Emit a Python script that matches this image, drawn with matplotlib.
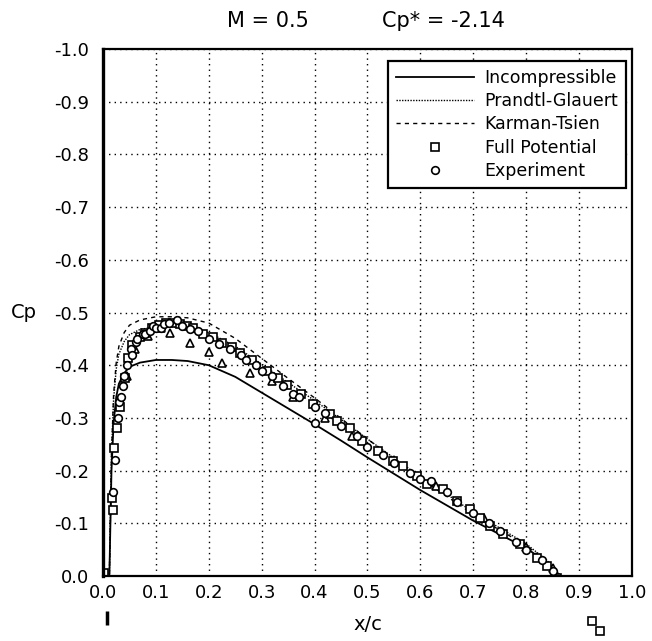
import matplotlib
matplotlib.use("Agg")
import matplotlib.pyplot as plt
from matplotlib.lines import Line2D

plt.rcParams["font.family"] = ["DejaVu Sans"]

# curves (x/c, Cp)
x_curve = [0.0, 0.012, 0.014, 0.016, 0.02, 0.025, 0.03, 0.04, 0.05, 0.07,
           0.1, 0.13, 0.16, 0.2, 0.25, 0.3, 0.35, 0.4, 0.45, 0.5,
           0.55, 0.6, 0.65, 0.7, 0.75, 0.8, 0.84, 0.865]
cp_incomp = [0.0, 0.0, -0.1, -0.2, -0.29, -0.34, -0.365, -0.385, -0.397, -0.405,
             -0.41, -0.41, -0.408, -0.40, -0.378, -0.348, -0.318, -0.288, -0.257, -0.225,
             -0.194, -0.163, -0.134, -0.105, -0.079, -0.053, -0.025, 0.0]
cp_pg = [0.0, 0.0, -0.115, -0.23, -0.335, -0.393, -0.421, -0.445, -0.458, -0.468,
         -0.473, -0.473, -0.471, -0.462, -0.436, -0.402, -0.367, -0.333, -0.297, -0.26,
         -0.224, -0.188, -0.155, -0.121, -0.091, -0.061, -0.029, 0.0]
cp_kt = [0.0, 0.0, -0.11, -0.23, -0.345, -0.405, -0.436, -0.462, -0.476, -0.486,
         -0.492, -0.492, -0.49, -0.48, -0.451, -0.413, -0.375, -0.338, -0.299, -0.26,
         -0.222, -0.185, -0.151, -0.117, -0.087, -0.058, -0.027, 0.0]

# full potential points
fp_x = [0.002, 0.017, 0.019, 0.021, 0.026, 0.032, 0.042, 0.047, 0.055, 0.07,
        0.08, 0.092, 0.105, 0.12, 0.133, 0.146, 0.158, 0.17, 0.189, 0.208,
        0.225, 0.244, 0.259, 0.282, 0.31, 0.33, 0.348, 0.375, 0.397, 0.43,
        0.442, 0.467, 0.49, 0.52, 0.548, 0.567, 0.593, 0.612, 0.643, 0.669,
        0.694, 0.713, 0.732, 0.757, 0.788, 0.82, 0.84, 0.858]
fp_cp = [-0.005, -0.148, -0.125, -0.243, -0.281, -0.32, -0.375, -0.413, -0.438, -0.453,
         -0.462, -0.471, -0.476, -0.48, -0.481, -0.478, -0.475, -0.471, -0.46, -0.453,
         -0.443, -0.434, -0.424, -0.409, -0.39, -0.375, -0.362, -0.345, -0.327, -0.308,
         -0.295, -0.281, -0.257, -0.238, -0.219, -0.209, -0.19, -0.175, -0.165, -0.143,
         -0.127, -0.11, -0.095, -0.08, -0.061, -0.034, -0.019, 0.004]

# experiment points
ex_x = [0.018, 0.022, 0.028, 0.03, 0.034, 0.038, 0.04, 0.045, 0.052, 0.055,
        0.062, 0.065, 0.075, 0.08, 0.088, 0.095, 0.1, 0.11, 0.115, 0.125,
        0.14, 0.15, 0.165, 0.18, 0.2, 0.22, 0.24, 0.26, 0.27, 0.29,
        0.3, 0.32, 0.34, 0.36, 0.37, 0.4, 0.4, 0.42, 0.45, 0.48,
        0.5, 0.53, 0.55, 0.58, 0.6, 0.62, 0.65, 0.67, 0.7, 0.73,
        0.75, 0.78, 0.8, 0.83, 0.85]
ex_cp = [-0.16, -0.22, -0.30, -0.33, -0.34, -0.36, -0.38, -0.40, -0.43, -0.42,
         -0.445, -0.45, -0.46, -0.46, -0.465, -0.475, -0.47, -0.47, -0.478, -0.48,
         -0.485, -0.475, -0.468, -0.465, -0.45, -0.44, -0.43, -0.42, -0.41, -0.40,
         -0.39, -0.38, -0.36, -0.345, -0.34, -0.32, -0.29, -0.31, -0.285, -0.265,
         -0.245, -0.23, -0.215, -0.195, -0.185, -0.18, -0.16, -0.14, -0.12, -0.10,
         -0.085, -0.065, -0.05, -0.03, -0.01]

# extra experiment points drawn as triangles
tr_x = [0.045, 0.06, 0.085, 0.11, 0.127, 0.164, 0.2, 0.225, 0.278, 0.32,
        0.36, 0.42, 0.47, 0.55, 0.63, 0.72, 0.8, 0.85]
tr_cp = [-0.38, -0.43, -0.455, -0.47, -0.462, -0.443, -0.425, -0.405, -0.386, -0.37,
         -0.34, -0.3, -0.265, -0.22, -0.17, -0.11, -0.055, -0.015]

# stray points plotted outside the frame
stray_x = [0.925, 0.94]
stray_cp = [0.085, 0.105]
bar_x = [0.008]
bar_cp = [0.08]

fig = plt.figure(figsize=(6.52, 6.41), dpi=100)
ax = fig.add_axes([0.158, 0.1014, 0.8113, 0.822])

ax.plot(x_curve, cp_incomp, color="black", lw=1.3)
ax.plot(x_curve, cp_pg, color="black", lw=1.0, linestyle=(0, (1, 1)))
ax.plot(x_curve, cp_kt, color="black", lw=1.0, linestyle=(0, (3, 3)))

mk = dict(linestyle="none", mfc="white", mec="black", mew=1.2)
ax.plot(tr_x, tr_cp, marker="^", ms=6, **mk)
ax.plot(fp_x, fp_cp, marker="s", ms=6, **mk)
ax.plot(ex_x, ex_cp, marker="o", ms=5.5, **mk)
ax.plot(stray_x, stray_cp, marker="s", ms=6, clip_on=False, **mk)
ax.plot(bar_x, bar_cp, marker="|", ms=10, mew=2.5, color="black",
        linestyle="none", clip_on=False)

ax.set_xlim(0, 1)
ax.set_ylim(0, -1)
ax.set_xticks([i / 10 for i in range(11)])
ax.set_yticks([-i / 10 for i in range(11)])
ax.set_xticklabels([f"{i / 10:.1f}" for i in range(11)])
ax.set_yticklabels(["0.0"] + [f"-{i / 10:.1f}" for i in range(1, 11)])
ax.tick_params(length=0, labelsize=13)
ax.tick_params(axis="x", pad=6)
ax.tick_params(axis="y", pad=10)
ax.grid(True, color="black", linestyle=(0, (1, 3)), lw=1.0)
for s in ax.spines.values():
    s.set_linewidth(1.6)
ax.spines["left"].set_linewidth(2.4)

fig.text(368 / 652, 1 - 625 / 641, "x/c", fontsize=14, ha="center", va="center")
fig.text(37 / 652, 0.1014 + 0.822 * 0.5, "Cp", fontsize=14, ha="right", va="center")

fig.text(268 / 652, 1 - 21 / 641, "M = 0.5", fontsize=15, ha="center", va="center")
fig.text(443 / 652, 1 - 21 / 641, "Cp* = -2.14", fontsize=15, ha="center", va="center")

handles = [
    Line2D([], [], color="black", lw=1.3),
    Line2D([], [], color="black", lw=1.0, linestyle=(0, (1, 1))),
    Line2D([], [], color="black", lw=1.0, linestyle=(0, (3, 3))),
    Line2D([], [], marker="s", ms=6, **mk),
    Line2D([], [], marker="o", ms=5.5, **mk),
]
labels = ["Incompressible", "Prandtl-Glauert", "Karman-Tsien",
          "Full Potential", "Experiment"]
leg = ax.legend(handles, labels, loc="upper right", bbox_to_anchor=(0.989, 0.977),
                fontsize=12.5, handlelength=4.5, handletextpad=0.6,
                labelspacing=0.3, borderpad=0.45, fancybox=False,
                framealpha=1, edgecolor="black", borderaxespad=0)
leg.get_frame().set_linewidth(1.6)

fig.savefig("out.png", dpi=100)
